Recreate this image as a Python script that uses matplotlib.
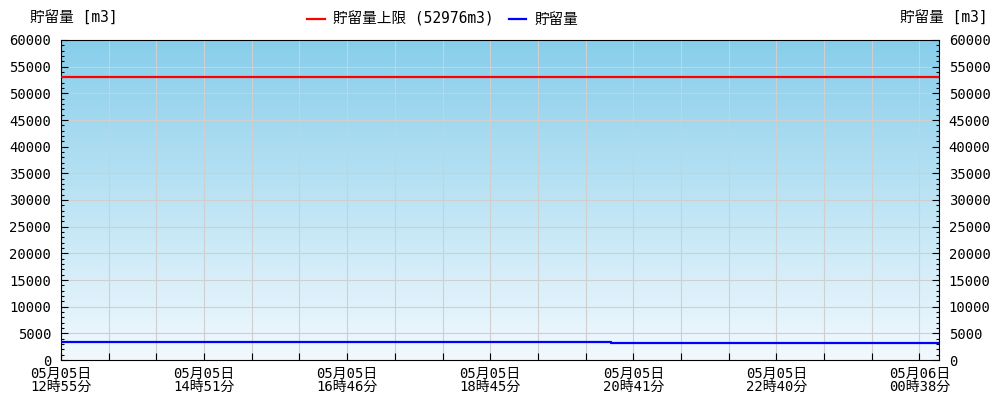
import numpy as np
import matplotlib.pyplot as plt
from matplotlib.colors import LinearSegmentedColormap
from matplotlib.ticker import MultipleLocator
from matplotlib.transforms import ScaledTranslation

plt.rcParams['font.family'] = ['DejaVu Sans Mono', 'Noto Sans CJK JP']

# x axis is in grid units (one grid line per unit, a label every 3)
tick_labels = ['05月05日\n12時55分', '05月05日\n14時51分', '05月05日\n16時46分',
               '05月05日\n18時45分', '05月05日\n20時41分', '05月05日\n22時40分',
               '05月06日\n00時38分']
x_end = 18.41

# storage level (step series)
storage_x = [0, 11.53, x_end]
storage_y = [3430, 3250, 3250]

# upper limit
limit_value = 52976

fig = plt.figure(figsize=(10, 4), dpi=100)
ax = fig.add_axes([0.061, 0.1, 0.878, 0.8])

# gradient background
cmap = LinearSegmentedColormap.from_list('bg', ['#f2f9fe', '#87ceeb'])
grad = np.linspace(0, 1, 256).reshape(-1, 1)
ax.imshow(grad, aspect='auto', cmap=cmap, origin='lower',
          extent=[0, x_end, 0, 60000], zorder=0)

ax.set_xlim(0, x_end)
ax.set_ylim(0, 60000)

ax.yaxis.set_major_locator(MultipleLocator(5000))
ax.yaxis.set_minor_locator(MultipleLocator(1000))
ax.grid(True, which='major', color='#cfcfcf', linewidth=0.8, zorder=1)

ax.axhline(limit_value, color='#ff0000', linewidth=1.6, zorder=3,
           label=f'貯留量上限 ({limit_value}m3)')
ax.plot(storage_x, storage_y, color='#0000ff', linewidth=1.6, zorder=3,
        drawstyle='steps-post', label='貯留量')

ax.set_xticks(range(0, 19))
ax.set_xticklabels([tick_labels[i // 3] if i % 3 == 0 else '' for i in range(19)],
                   linespacing=0.92)

ax.tick_params(axis='both', which='both', direction='in', labelsize=10,
               colors='black')
ax.tick_params(axis='x', length=5, width=0.8, pad=5)
ax.tick_params(axis='y', which='major', length=5, width=0.8, pad=7,
               right=True, labelright=True)
ax.tick_params(axis='y', which='minor', length=2.5, width=0.8, right=True)

# nudge the "0" labels up a little so they clear the date labels
fig.canvas.draw()
t0 = ax.yaxis.get_major_ticks()[0]
for lab in (t0.label1, t0.label2):
    lab.set_transform(lab.get_transform() + ScaledTranslation(0, 3 / 72, fig.dpi_scale_trans))

for s in ax.spines.values():
    s.set_color('black')
    s.set_linewidth(0.8)

fig.text(0.03, 0.957, '貯留量 [m3]', fontsize=10.5, ha='left', va='center')
fig.text(0.988, 0.957, '貯留量 [m3]', fontsize=10.5, ha='right', va='center')

fig.legend(loc='center', bbox_to_anchor=(0.443, 0.952), ncol=2, frameon=False,
           fontsize=10.5, handlelength=1.2, columnspacing=1.0, handletextpad=0.6)

fig.savefig('out.png', dpi=100)
